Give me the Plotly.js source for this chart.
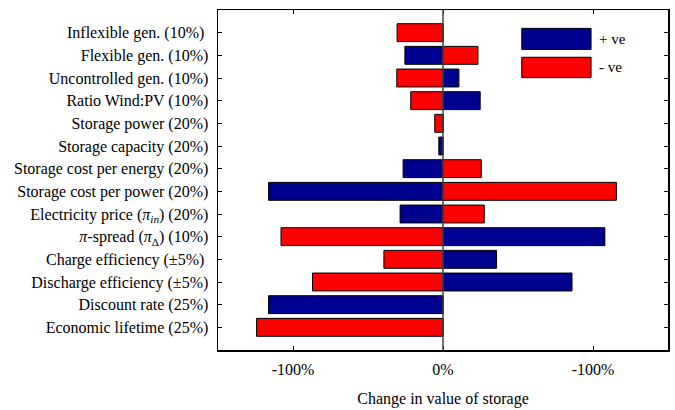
<!DOCTYPE html>
<html>
<head>
<meta charset="utf-8">
<script src="https://cdn.plot.ly/plotly-3.0.1.min.js"></script>
<style>html,body{margin:0;padding:0;background:#fff;}#chart{width:675px;height:410px;}</style>
</head>
<body>
<div id="chart"></div>
<script>
// Categories, top to bottom
var categories = [
  "Inflexible gen. (10%)\u00a0",
  "Flexible gen. (10%)",
  "Uncontrolled gen. (10%)",
  "Ratio Wind:PV (10%)",
  "Storage power (20%)",
  "Storage capacity (20%)",
  "Storage cost per energy (20%)",
  "Storage cost per power (20%)",
  "Electricity price (<i>π<sub>in</sub></i>) (20%)",
  "<i>π</i>-spread (<i>π</i><sub>Δ</sub>) (10%)",
  "Charge efficiency (±5%)\u00a0",
  "Discharge efficiency (±5%)",
  "Discount rate (25%)",
  "Economic lifetime (25%)"
];
// Change in value of storage (1 = 100%)
var plusVe  = [0, -0.254, 0.106, 0.248, 0, -0.028, -0.266, -1.163, -0.286, 1.079, 0.357, 0.86, -1.163, 0];
var minusVe = [-0.306, 0.233, -0.308, -0.215, -0.055, 0, 0.255, 1.156, 0.275, -1.08, -0.394, -0.87, 0, -1.243];
var tickVals = [-1, 0, 1];
var tickText = ["-100%", "0%", "-100%"];
var seriesNames = ["+ ve", "- ve"];
var seriesColors = ["#000090", "#ff0000"];

var font = {family: "Liberation Serif, Times New Roman, serif", size: 16, color: "#000"};

var traces = [plusVe, minusVe].map(function (vals, i) {
  return {
    type: "bar", orientation: "h",
    y: categories, x: vals, name: seriesNames[i],
    width: 0.79,
    marker: {color: seriesColors[i], line: {color: "#000", width: 1}},
    showlegend: false, hoverinfo: "x+y"
  };
});

// legend drawn as swatches (large boxes as in reference)
var shapes = [], annotations = [];
var legY = [[0.884, 0.946], [0.801, 0.861]];
seriesNames.forEach(function (n, i) {
  shapes.push({type: "rect", xref: "paper", yref: "paper", x0: 0.675, x1: 0.829,
    y0: legY[i][0], y1: legY[i][1], fillcolor: seriesColors[i], line: {color: "#000", width: 1}});
  annotations.push({xref: "paper", yref: "paper", x: 0.842, y: (legY[i][0] + legY[i][1]) / 2,
    xanchor: "left", yanchor: "middle", text: n, showarrow: false, font: {family: font.family, size: 15, color: "#000"}});
});
// zero line
shapes.push({type: "line", xref: "x", yref: "paper", x0: 0, x1: 0, y0: 0, y1: 1,
  line: {color: "#444", width: 1.5}, layer: "above"});

var layout = {
  width: 675, height: 410,
  margin: {l: 218, r: 7, t: 10, b: 60},
  paper_bgcolor: "#fff", plot_bgcolor: "#fff",
  font: font,
  barmode: "overlay",
  showlegend: false,
  xaxis: {
    range: [-1.5, 1.5], tickvals: tickVals, ticktext: tickText,
    ticks: "inside", ticklen: 4, tickcolor: "#000", tickwidth: 1,
    showgrid: false, zeroline: false,
    showline: true, linecolor: "#000", linewidth: 1.5, mirror: "ticks",
    title: {text: "Change in value of storage", font: font, standoff: 16},
    tickfont: font, ticklabelstandoff: 4
  },
  yaxis: {
    type: "category", range: [14, -1],
    ticks: "inside", ticklen: 4, tickcolor: "#000", tickwidth: 1,
    showgrid: false, zeroline: false,
    showline: true, linecolor: "#000", linewidth: 1.5, mirror: "ticks",
    tickfont: font, ticklabelstandoff: 5
  },
  shapes: shapes,
  annotations: annotations
};

Plotly.newPlot("chart", traces, layout, {displayModeBar: false, staticPlot: true});
</script>
</body>
</html>
